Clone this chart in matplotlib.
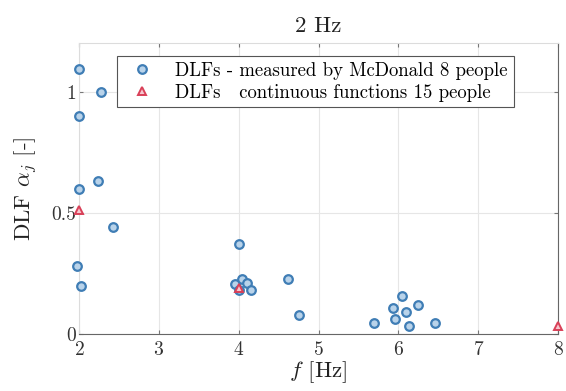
import numpy as np
from matplotlib import pyplot as plt

# DLFs measured by McDonald (8 people)
meas_f = [2.0, 2.28, 2.0, 2.0, 2.24, 2.42, 1.98, 2.02,
          4.01, 3.95, 4.04, 4.10, 4.15, 4.0, 4.62, 4.75,
          5.69, 6.04, 5.93, 6.09, 5.96, 6.13, 6.25, 6.46]
meas_dlf = [1.095, 1.00, 0.90, 0.60, 0.63, 0.44, 0.28, 0.20,
            0.37, 0.205, 0.226, 0.21, 0.18, 0.18, 0.226, 0.078,
            0.045, 0.156, 0.107, 0.09, 0.06, 0.033, 0.12, 0.045]

# DLFs from continuous functions (15 people)
cont_f = [2.0, 4.0, 8.0]
cont_dlf = [0.51, 0.19, 0.033]

plt.rcParams['font.family'] = 'cmr10'
plt.rcParams['mathtext.fontset'] = 'cm'
plt.rcParams['axes.formatter.use_mathtext'] = True

fig = plt.figure(figsize=(5.66, 3.91), dpi=100)
ax = fig.add_axes([0.1396, 0.1458, 0.8464, 0.744])

ax.plot(meas_f, meas_dlf, 'o', ms=6.2, mew=1.6, mec='#3f7db5', mfc='#b9d3ea',
        linestyle='none', label='DLFs - measured by McDonald 8 people', clip_on=False, zorder=3)
ax.plot(cont_f, cont_dlf, '^', ms=6.2, mew=1.4, mec='#d94058', mfc='#f6c6ce',
        linestyle='none', label='DLFs   continuous functions 15 people', clip_on=False, zorder=4)

ax.set_xlim(2, 8)
ax.set_ylim(0, 1.2)
ax.set_xticks([2, 3, 4, 5, 6, 7, 8])
ax.set_yticks([0, 0.5, 1])
ax.set_yticklabels(['0', '0.5', '1'])
ax.grid(True, color='#e6e6e6', linewidth=0.8)
ax.set_axisbelow(True)
for name, s in ax.spines.items():
    s.set_linewidth(0.8)
    s.set_color('#666666' if name in ('bottom', 'right') else '#dcdcdc')
ax.tick_params(direction='in', length=3, color='#777777', labelsize=14, labelcolor='#333333',
               top=True, right=True)
ax.tick_params(axis='x', pad=5)
ax.tick_params(axis='y', pad=2)

ax.set_title('2 Hz', fontsize=16.5, color='#222222', pad=8)
ax.set_xlabel('$f$ [Hz]', fontsize=16.5, color='#222222', labelpad=0)
ax.set_ylabel(r'DLF $\alpha_j$ [-]', fontsize=16.5, color='#222222', labelpad=8)

leg = ax.legend(loc='upper left', bbox_to_anchor=(0.08, 0.955), fontsize=13.5, frameon=True,
                fancybox=False, edgecolor='#555555', framealpha=1, borderpad=0.3,
                handletextpad=0.8, labelspacing=0.2, handlelength=2.0, borderaxespad=0)
leg.get_frame().set_linewidth(0.8)

fig.savefig('out.png', dpi=100)
